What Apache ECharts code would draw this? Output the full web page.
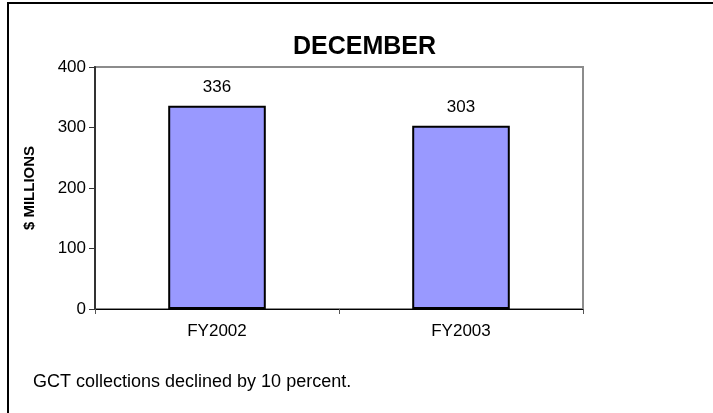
<!doctype html>
<html>
<head>
    <meta charset="UTF-8">
    <title>DECEMBER</title>
    <script src="https://cdn.jsdelivr.net/npm/echarts@6/dist/echarts.min.js"></script>
    <style>
        html, body { margin: 0; padding: 0; background: #fff; }
    </style>
</head>
<body>
<div id="main" style="width: 713px;height:413px;"></div>
<script>
    var categories = ['FY2002', 'FY2003'];
    var values = [336, 303];
    var yTicks = [0, 100, 200, 300, 400];

    var font = 'Liberation Sans, Arial, sans-serif';
    var myChart = echarts.init(document.getElementById('main'));

    var option = {
        animation: false,
        title: {
            text: 'DECEMBER',
            left: 288,
            top: 30,
            textStyle: { fontFamily: font, fontSize: 25, fontWeight: 'bold', color: '#000' }
        },
        grid: {
            left: 95, right: 130, top: 67, bottom: 104,
            show: true,
            borderColor: '#8c8c8c',
            borderWidth: 2,
            backgroundColor: '#fff'
        },
        xAxis: {
            type: 'category',
            data: categories,
            axisLine: { lineStyle: { color: '#000', width: 1 } },
            axisTick: { show: true, alignWithLabel: false, length: 5, lineStyle: { color: '#555' } },
            axisLabel: { fontFamily: font, fontSize: 17, color: '#000', margin: 14 }
        },
        yAxis: {
            type: 'value',
            min: yTicks[0],
            max: yTicks[yTicks.length - 1],
            interval: 100,
            name: '$ MILLIONS',
            nameLocation: 'middle',
            nameGap: 58,
            nameTextStyle: { fontFamily: font, fontSize: 15, fontWeight: 'bold', color: '#000' },
            axisLine: { show: true, lineStyle: { color: '#333', width: 2 } },
            axisTick: { show: true, length: 6, lineStyle: { color: '#333' } },
            axisLabel: { fontFamily: font, fontSize: 17, color: '#000', margin: 9 },
            splitLine: { show: false }
        },
        series: [
            {
                type: 'bar',
                data: values,
                barWidth: '40%',
                itemStyle: { color: '#9999ff', borderColor: '#000', borderWidth: 2 },
                label: {
                    show: true,
                    position: 'top',
                    distance: 10,
                    fontFamily: font,
                    fontSize: 17,
                    color: '#000'
                }
            }
        ],
        graphic: [
            {
                type: 'polyline',
                shape: { points: [[8, 413], [8, 3], [713, 3]] },
                style: { stroke: '#000', lineWidth: 2, fill: null }
            },
            {
                type: 'text',
                left: 33,
                top: 373,
                style: {
                    text: 'GCT collections declined by 10 percent.',
                    font: '18px ' + font,
                    fill: '#000'
                }
            }
        ]
    };

    myChart.setOption(option);
</script>
</body>
</html>
